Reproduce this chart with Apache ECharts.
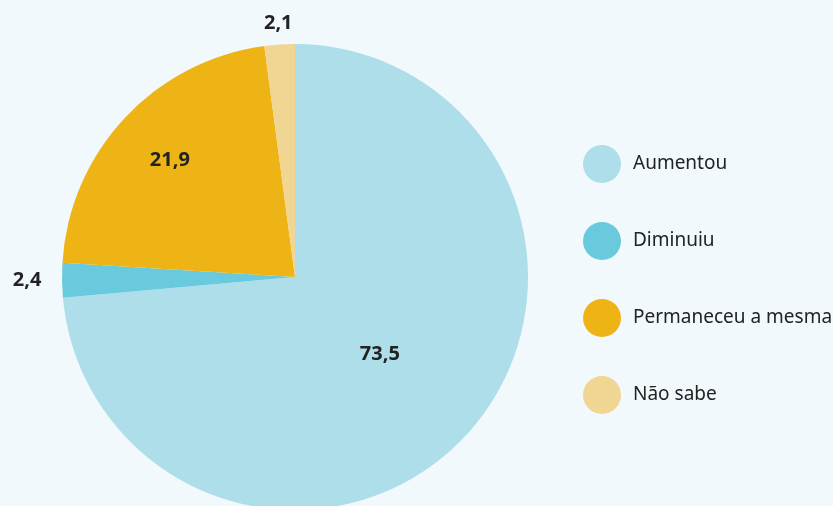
<!DOCTYPE html>
<html>
<head>
<meta charset="utf-8">
<script src="https://cdn.jsdelivr.net/npm/echarts@6/dist/echarts.min.js"></script>
<style>
html, body { margin: 0; padding: 0; background: #f1f9fc; }
#chart { width: 833px; height: 506px; }
</style>
</head>
<body>
<div id="chart"></div>
<script>
var categories = ['Aumentou', 'Diminuiu', 'Permaneceu a mesma', 'Não sabe'];
var values = [73.5, 2.4, 21.9, 2.1];
var colors = ['#addeea', '#69c9dd', '#eeb416', '#f1d592'];

function getPieData() {
    return categories.map(function (name, i) {
        return { name: name, value: values[i], itemStyle: { color: colors[i] } }
    })
}

// transparent copy of the pie, used only to place the label of one slice
function getLabelSeries(index, outerRadius) {
    return {
        type: 'pie',
        silent: true,
        center: [295, 277],
        radius: [0, outerRadius],
        startAngle: 90,
        clockwise: true,
        z: 5,
        itemStyle: { color: 'rgba(0,0,0,0)' },
        emphasis: { disabled: true },
        labelLine: { show: false },
        data: categories.map(function (name, i) {
            return {
                name: name,
                value: values[i],
                label: {
                    show: i === index,
                    position: 'inside',
                    formatter: function (p) { return String(p.value).replace('.', ',') },
                    color: '#222',
                    fontSize: 20,
                    fontWeight: 'bold',
                    fontFamily: 'Noto Sans'
                }
            }
        })
    }
}

var chart = echarts.init(document.getElementById('chart'));
chart.setOption({
    backgroundColor: '#f1f9fc',
    animation: false,
    legend: {
        orient: 'vertical',
        left: 578,
        top: 140,
        icon: 'circle',
        itemWidth: 38,
        itemHeight: 38,
        itemGap: 39,
        selectedMode: false,
        data: categories,
        textStyle: {
            color: '#222',
            fontSize: 19,
            fontFamily: 'Noto Sans',
            padding: [0, 0, 0, 7]
        }
    },
    series: [{
        type: 'pie',
        center: [295, 277],
        radius: [0, 233],
        startAngle: 90,
        clockwise: true,
        label: { show: false },
        labelLine: { show: false },
        emphasis: { disabled: true },
        data: getPieData()
    },
        getLabelSeries(0, 224),
        getLabelSeries(1, 530),
        getLabelSeries(2, 336),
        getLabelSeries(3, 502)
    ]
});
</script>
</body>
</html>
